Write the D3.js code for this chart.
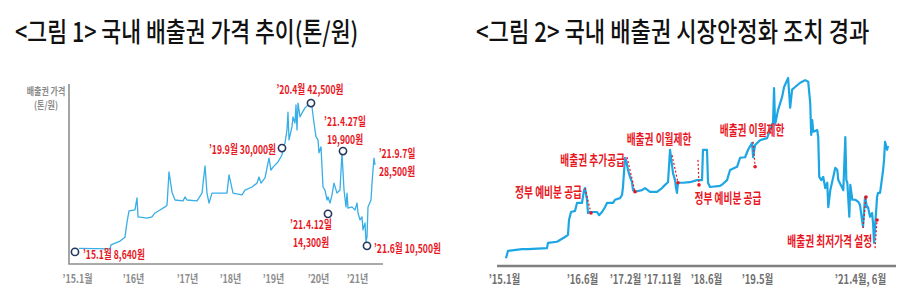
<!DOCTYPE html>
<html>
<head>
<meta charset="utf-8">
<script src="https://cdn.jsdelivr.net/npm/d3@7"></script>
<style>
  body { margin: 0; background: #fff; }
  svg { display: block; font-family: "Noto Sans CJK KR", "Noto Sans", sans-serif; }
</style>
</head>
<body>
<svg id="chart" width="915" height="307"></svg>
<script>
// ---------------- data ----------------
var titleL = "<그림 1> 국내 배출권 가격 추이(톤/원)";
var titleR = "<그림 2> 국내 배출권 시장안정화 조치 경과";
var yTitleL = ["배출권 가격", "(톤/원)"];

// left chart: price (won/ton) by decimal year
var yearsL = [2015.036, 2015.589, 2015.607, 2015.768, 2015.857, 2015.893, 2015.929, 2016.037, 2016.074, 2016.093,
  2016.259, 2016.352, 2016.407, 2016.5, 2016.593, 2016.63, 2016.667, 2016.722, 2016.778, 2016.926,
  2016.963, 2017.0, 2017.233, 2017.349, 2017.419, 2017.465, 2017.512, 2017.581, 2017.93, 2017.977,
  2018.07, 2018.279, 2018.349, 2018.512, 2018.628, 2018.674, 2018.721, 2018.814, 2018.907, 2018.953,
  2019.0, 2019.111, 2019.2, 2019.222, 2019.267, 2019.311, 2019.333, 2019.356, 2019.422, 2019.444,
  2019.489, 2019.511, 2019.533, 2019.556, 2019.6, 2019.644, 2019.711, 2019.778, 2019.844, 2019.867,
  2019.911, 2019.956, 2020.0, 2020.026, 2020.077, 2020.103, 2020.128, 2020.179, 2020.231, 2020.256,
  2020.308, 2020.359, 2020.41, 2020.487, 2020.564, 2020.615, 2020.667, 2020.718, 2020.744, 2020.769,
  2020.872, 2020.949, 2021.0, 2021.026, 2021.077, 2021.128, 2021.154, 2021.205, 2021.231, 2021.256,
  2021.282, 2021.359, 2021.385, 2021.41, 2021.436, 2021.462];
var pricesL = [8600, 8500, 9400, 10300, 11200, 14700, 17300, 17500, 20300, 15900,
  15600, 15900, 16800, 17500, 18200, 18600, 26300, 21600, 19800, 19600,
  20500, 19800, 19600, 21400, 27700, 21400, 19100, 21400, 21400, 25600,
  21400, 21000, 22100, 22800, 23700, 25100, 23700, 24900, 29500, 26700,
  27400, 28600, 30200, 31800, 33000, 36000, 40100, 33700, 36700, 39000,
  37600, 41800, 36000, 42200, 39000, 39900, 41100, 41800, 42500, 41300,
  37600, 34400, 33700, 30700, 32100, 27400, 22800, 22100, 19800, 20500,
  19100, 21000, 23700, 21400, 22100, 30700, 22100, 18200, 21400, 17900,
  18200, 17500, 19100, 16800, 15200, 15900, 12900, 14500, 10100, 11200,
  18200, 19800, 23700, 26700, 29500, 27900];
var tickYearsL = [2015, 2016, 2017, 2018, 2019, 2020, 2021];
var tickLabelsL = ["’15.1월", "’16년", "’17년", "’18년", "’19년", "’20년", "’21년"];

// left chart callouts
var annoYearL = [2014.964, 2019.2, 2019.844, 2020.256, 2020.641, 2021.256, 2021.462];
var annoValL = [7800, 31800, 42200, 16600, 31100, 9200, 27900];
var annoTextL = [["’15.1월 8,640원"], ["’19.9월 30,000원"], ["’20.4월 42,500원"],
  ["’21.4.12일", "14,300원"], ["’21.4.27일", "19,900원"], ["’21.6월 10,500원"], ["’21.9.7일", "28,500원"]];
var annoRingL = [true, true, true, true, true, true, false];

// right chart: price by decimal year
var yearsR = [2015.036, 2015.073, 2015.327, 2015.436, 2015.781, 2015.799, 2015.963, 2016.108, 2016.162, 2016.181,
  2016.217, 2016.290, 2016.326, 2016.417, 2016.448, 2016.464, 2016.494, 2016.510, 2016.541, 2016.650,
  2016.681, 2016.727, 2016.773, 2016.804, 2016.897, 2016.928, 2017.006, 2017.037, 2017.052, 2017.083,
  2017.104, 2017.144, 2017.184, 2017.225, 2017.245, 2017.286, 2017.428, 2017.489, 2017.590, 2017.732,
  2017.833, 2017.873, 2017.913, 2017.940, 2017.979, 2018.006, 2018.019, 2018.032, 2018.045, 2018.112,
  2018.204, 2018.297, 2018.364, 2018.377, 2018.435, 2018.453, 2018.489, 2018.669, 2018.723, 2018.795,
  2018.849, 2018.975, 2019.029, 2019.119, 2019.173, 2019.245, 2019.263, 2019.299, 2019.393, 2019.532,
  2019.592, 2019.652, 2019.671, 2019.691, 2019.751, 2019.830, 2019.870, 2019.930, 2019.950, 2019.990,
  2020.029, 2020.089, 2020.189, 2020.288, 2020.348, 2020.388, 2020.408, 2020.428, 2020.447, 2020.527,
  2020.547, 2020.567, 2020.607, 2020.646, 2020.686, 2020.726, 2020.746, 2020.786, 2020.845, 2020.885,
  2020.925, 2020.945, 2021.024, 2021.044, 2021.084, 2021.104, 2021.124, 2021.163, 2021.183, 2021.223,
  2021.282, 2021.342, 2021.375, 2021.435, 2021.474, 2021.514, 2021.534, 2021.574, 2021.614, 2021.634,
  2021.654, 2021.674, 2021.713, 2021.733, 2021.773, 2021.833, 2021.852, 2021.872, 2021.912, 2021.932];
var pricesR = [8600, 10000, 10300, 10300, 10500, 11500, 11700, 12600, 13000, 15800,
  17300, 17500, 19000, 19000, 21400, 21800, 19600, 17100, 17300, 17300,
  16700, 17300, 18200, 19000, 19000, 19600, 19900, 20500, 22000, 27500,
  27100, 25200, 23900, 22900, 21400, 21100, 21400, 21800, 21100, 21100,
  21800, 22400, 22900, 29000, 24600, 23300, 21800, 20900, 22800, 22800,
  22900, 23300, 23300, 29000, 29000, 22800, 22000, 22200, 22600, 23300,
  25200, 25800, 27500, 27600, 29000, 30300, 27600, 29900, 30800, 31200,
  32700, 34200, 40600, 33700, 36500, 38900, 40800, 42100, 42500, 36900,
  40300, 40800, 41600, 42100, 41800, 37800, 31800, 34600, 32400, 32700,
  31400, 23900, 23300, 23900, 21800, 22800, 18200, 21400, 23900, 25600,
  25200, 23300, 21800, 21400, 31400, 23300, 22800, 16400, 22400, 19600,
  19600, 19200, 18600, 14500, 20100, 18200, 18200, 16400, 17100, 15200,
  11500, 14500, 20100, 20900, 20900, 25200, 27100, 30500, 29000, 29700];
var tickYearsR = [2015.0, 2016.417, 2017.083, 2017.833, 2018.417, 2019.333, 2021.375];
var tickLabelsR = ["’15.1월", "’16.6월", "’17.2월", "’17.11월", "’18.6월", "’19.5월", "’21.4월, 6월"];

// right chart policy measures: dashed drop from -> to
var evFromYear = [2016.464, 2017.124, 2017.966, 2018.311, 2019.263, 2021.435, 2021.674];
var evFromVal = [21800, 27600, 28000, 27100, 30500, 14300, 10500];
var evToYear = [2016.556, 2017.286, 2018.045, 2018.324, 2019.299, 2021.494, 2021.713];
var evToVal = [17100, 21100, 22800, 22400, 25800, 20100, 15800];
var evLabels = ["정부 예비분 공급", "배출권 추가공급", "배출권 이월제한", "정부 예비분 공급", "배출권 이월제한", "배출권 최저가격 설정"];
var evLabelSeg = [0, 1, 2, 3, 4, 6];

// ---------------- layout ----------------
var RED = "#e8171f";
var svg = d3.select("#chart");

// text helper: narrow glyphs like the source, extra lines as tspans
function ctext(parent, x, y, str, size, weight, color, anchor, sx, lh) {
  var lines = [].concat(str);
  var g = parent.append("g").attr("transform", "translate(" + x + "," + y + ")");
  var t = g.append("text")
    .attr("transform", "scale(" + sx + ",1)")
    .attr("text-anchor", anchor || "start")
    .attr("dominant-baseline", "central")
    .style("font-size", size + "px")
    .style("font-weight", weight)
    .attr("fill", color);
  lines.forEach(function (s, j) {
    t.append("tspan").attr("x", 0).attr("dy", j ? lh : 0).text(s);
  });
  return g;
}

ctext(svg, 15, 30, titleL, 27, 500, "#111", "start", 0.8);
ctext(svg, 476, 30, titleR, 27, 500, "#111", "start", 0.82);

// ---- left chart ----
var L = { left: 69, right: 383, top: 84, bottom: 264 };
var stopsL = [8, 64, 118, 161, 204, 249, 288];   // tick spacing of the source axis
var xL = d3.scaleLinear().domain(tickYearsL).range(stopsL.map(function (d) { return L.left + d; }));
var yL = d3.scaleLinear().domain([5000, 45000]).range([L.bottom, L.top + 7]);

svg.append("path")
  .attr("d", "M" + L.left + "," + L.top + "V" + L.bottom + "H" + L.right)
  .attr("fill", "none").attr("stroke", "#8f8f8f").attr("stroke-width", 1.6);

ctext(svg, 46, 91, yTitleL, 10, 700, "#8a8a8a", "middle", 0.8, 14);

var axL = svg.append("g").attr("transform", "translate(0," + (L.bottom + 15) + ")")
  .call(d3.axisBottom(xL).tickValues(tickYearsL)
    .tickFormat(function (d, i) { return tickLabelsL[i]; }).tickSize(0).tickPadding(0));
axL.attr("font-family", null).attr("font-size", null);
axL.select(".domain").remove();
axL.selectAll("text").attr("dy", "0.35em").attr("transform", "scale(0.78,1)")
  .style("font-size", "11.5px").style("font-weight", 700).attr("fill", "#8c8c8c");

var lineL = d3.line().x(function (d) { return xL(d[0]); }).y(function (d) { return yL(d[1]); });
svg.append("path").datum(d3.zip(yearsL, pricesL))
  .attr("d", lineL).attr("fill", "none")
  .attr("stroke", "#38aee6").attr("stroke-width", 1.3).attr("stroke-linejoin", "round");

// callout text offsets from their anchor: dx, dy of first line, anchor, line height
var annoPosL = [[8, 1, "start", 0], [-6, 0, "end", 0], [-1, -15, "middle", 0], [-17, 9.75, "middle", 17.5],
  [2, -30.75, "middle", 17.5], [7, 1, "start", 0], [22, -12.25, "middle", 17.5]];
annoTextL.forEach(function (lines, i) {
  var cx = xL(annoYearL[i]), cy = yL(annoValL[i]), p = annoPosL[i];
  if (annoRingL[i]) {
    svg.append("circle").attr("cx", cx).attr("cy", cy).attr("r", 3.6)
      .attr("fill", "#fff").attr("stroke", "#22385c").attr("stroke-width", 1.6);
  }
  ctext(svg, cx + p[0], cy + p[1], lines, 12, 700, RED, p[2], 0.72, p[3]);
});

// ---- right chart ----
var R = { left: 497, right: 896, axisY: 266 };
var stopsR = [7, 85, 128, 165, 209, 260, 363];
var xR = d3.scaleLinear().domain(tickYearsR).range(stopsR.map(function (d) { return R.left + d; }));
var yR = d3.scaleLinear().domain([5000, 45000]).range([277.4, 64.7]);

svg.append("line").attr("x1", R.left).attr("x2", R.right).attr("y1", R.axisY).attr("y2", R.axisY)
  .attr("stroke", "#7f7f7f").attr("stroke-width", 2.5);

var axR = svg.append("g").attr("transform", "translate(0," + (R.axisY + 14) + ")")
  .call(d3.axisBottom(xR).tickValues(tickYearsR)
    .tickFormat(function (d, i) { return tickLabelsR[i]; }).tickSize(0).tickPadding(0));
axR.attr("font-family", null).attr("font-size", null);
axR.select(".domain").remove();
axR.selectAll("text").attr("dy", "0.35em").attr("transform", "scale(0.76,1)")
  .style("font-size", "12.5px").style("font-weight", 700).attr("fill", "#6f6f6f");

var lineR = d3.line().x(function (d) { return xR(d[0]); }).y(function (d) { return yR(d[1]); });
svg.append("path").datum(d3.zip(yearsR, pricesR))
  .attr("d", lineR).attr("fill", "none")
  .attr("stroke", "#1da6e4").attr("stroke-width", 2.2).attr("stroke-linejoin", "round");

// dashed drops
evFromYear.forEach(function (y0, i) {
  svg.append("line")
    .attr("x1", xR(y0)).attr("y1", yR(evFromVal[i]))
    .attr("x2", xR(evToYear[i])).attr("y2", yR(evToVal[i]))
    .attr("stroke", RED).attr("stroke-width", 1.2).attr("stroke-dasharray", "2,2");
  svg.append("circle").attr("cx", xR(evToYear[i])).attr("cy", yR(evToVal[i])).attr("r", 1.8).attr("fill", RED);
});

var evLabelPos = [[-3, 2, "end"], [-2, 1, "end"], [-13, -18, "middle"], [30, 36, "middle"],
  [-1, -14, "middle"], [-3, -9, "end"]];
evLabels.forEach(function (s, i) {
  var k = evLabelSeg[i], p = evLabelPos[i];
  ctext(svg, xR(evFromYear[k]) + p[0], yR(evFromVal[k]) + p[1], s, 13.5, 700, RED, p[2], 0.72);
});
</script>
</body>
</html>
